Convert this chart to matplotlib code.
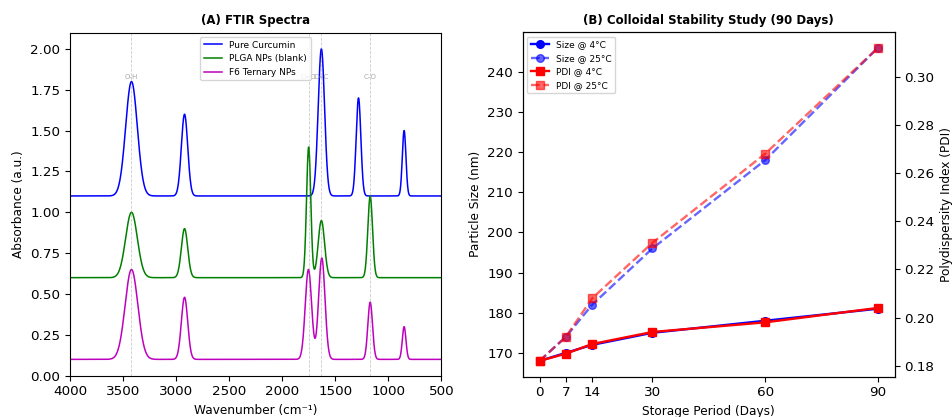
"""FTIR spectra and colloidal stability study (two-panel figure)."""

import numpy as np
import matplotlib
matplotlib.use("Agg")
import matplotlib.pyplot as plt

# ---- Panel A: FTIR peaks (centre cm-1, height above baseline, width cm-1) ----
curcumin_base = 1.10
curcumin_centres = [3420, 2920, 1630, 1280, 850]
curcumin_heights = [0.70, 0.50, 0.90, 0.60, 0.40]
curcumin_widths = [55, 30, 30, 22, 17]

plga_base = 0.60
plga_centres = [3420, 2920, 1750, 1630, 1170]
plga_heights = [0.40, 0.30, 0.80, 0.35, 0.50]
plga_widths = [55, 30, 20, 30, 22]

f6_base = 0.10
f6_centres = [3420, 2920, 1752, 1626, 1170, 850]
f6_heights = [0.55, 0.38, 0.55, 0.62, 0.35, 0.20]
f6_widths = [60, 30, 30, 30, 22, 17]

band_positions = [3420, 1750, 1630, 1170]
band_labels = ["O-H", "C=O", "C=C", "C-O"]

# ---- Panel B: stability ----
days = [0, 7, 14, 30, 60, 90]
size_4c = [168, 170, 172, 175, 178, 181]
size_25c = [168, 174, 182, 196, 218, 246]
pdi_4c = [0.182, 0.185, 0.189, 0.194, 0.198, 0.204]
pdi_25c = [0.182, 0.192, 0.208, 0.231, 0.268, 0.312]


def spectrum(wn, base, centres, heights, widths):
    y = np.full_like(wn, base)
    for c, h, w in zip(centres, heights, widths):
        y += h * np.exp(-((wn - c) ** 2) / (2 * w ** 2))
    return y


wn = np.linspace(4000, 500, 1800)

fig = plt.figure(figsize=(9.52, 4.17), dpi=100)
ax1 = fig.add_axes([0.0735, 0.099, 0.390, 0.823])
ax2 = fig.add_axes([0.549, 0.097, 0.391, 0.826])

ax1.plot(wn, spectrum(wn, curcumin_base, curcumin_centres, curcumin_heights, curcumin_widths),
         color="b", lw=1.1, label="Pure Curcumin")
ax1.plot(wn, spectrum(wn, plga_base, plga_centres, plga_heights, plga_widths),
         color="g", lw=1.1, label="PLGA NPs (blank)")
ax1.plot(wn, spectrum(wn, f6_base, f6_centres, f6_heights, f6_widths),
         color="m", lw=1.1, label="F6 Ternary NPs")

for pos, lbl in zip(band_positions, band_labels):
    ax1.axvline(pos, color="gray", ls="--", lw=0.6, alpha=0.4)
    ax1.text(pos, 1.83, lbl, ha="center", va="center", fontsize=5, color="gray", alpha=0.7)

ax1.set_xlim(4000, 500)
ax1.set_ylim(0, 2.1)
ax1.set_xlabel("Wavenumber (cm⁻¹)", fontsize=8.7)
ax1.set_ylabel("Absorbance (a.u.)", fontsize=8.7)
ax1.set_title("(A) FTIR Spectra", fontsize=8.5, fontweight="bold")
ax1.tick_params(labelsize=9.7)
ax1.legend(loc="upper center", fontsize=6.5, framealpha=0.8)

ax2.plot(days, size_4c, "b-o", lw=1.7, ms=5.5, label="Size @ 4°C")
ax2.plot(days, size_25c, "b--o", lw=1.7, ms=5.5, alpha=0.6, label="Size @ 25°C")
ax2.set_xticks(days)
ax2.set_xlabel("Storage Period (Days)", fontsize=8.7)
ax2.set_ylabel("Particle Size (nm)", fontsize=8.7)
ax2.set_title("(B) Colloidal Stability Study (90 Days)", fontsize=8.5, fontweight="bold")
ax2.tick_params(labelsize=9.7)

ax3 = ax2.twinx()
ax3.plot(days, pdi_4c, "r-s", lw=1.7, ms=5.5, label="PDI @ 4°C")
ax3.plot(days, pdi_25c, "r--s", lw=1.7, ms=5.5, alpha=0.6, label="PDI @ 25°C")
ax3.set_ylabel("Polydispersity Index (PDI)", fontsize=8.7)
ax3.tick_params(labelsize=9.7)

h1, l1 = ax2.get_legend_handles_labels()
h2, l2 = ax3.get_legend_handles_labels()
ax2.legend(h1 + h2, l1 + l2, loc="upper left", fontsize=6.5, framealpha=0.8)

plt.savefig("out.png", dpi=100)
plt.close()
